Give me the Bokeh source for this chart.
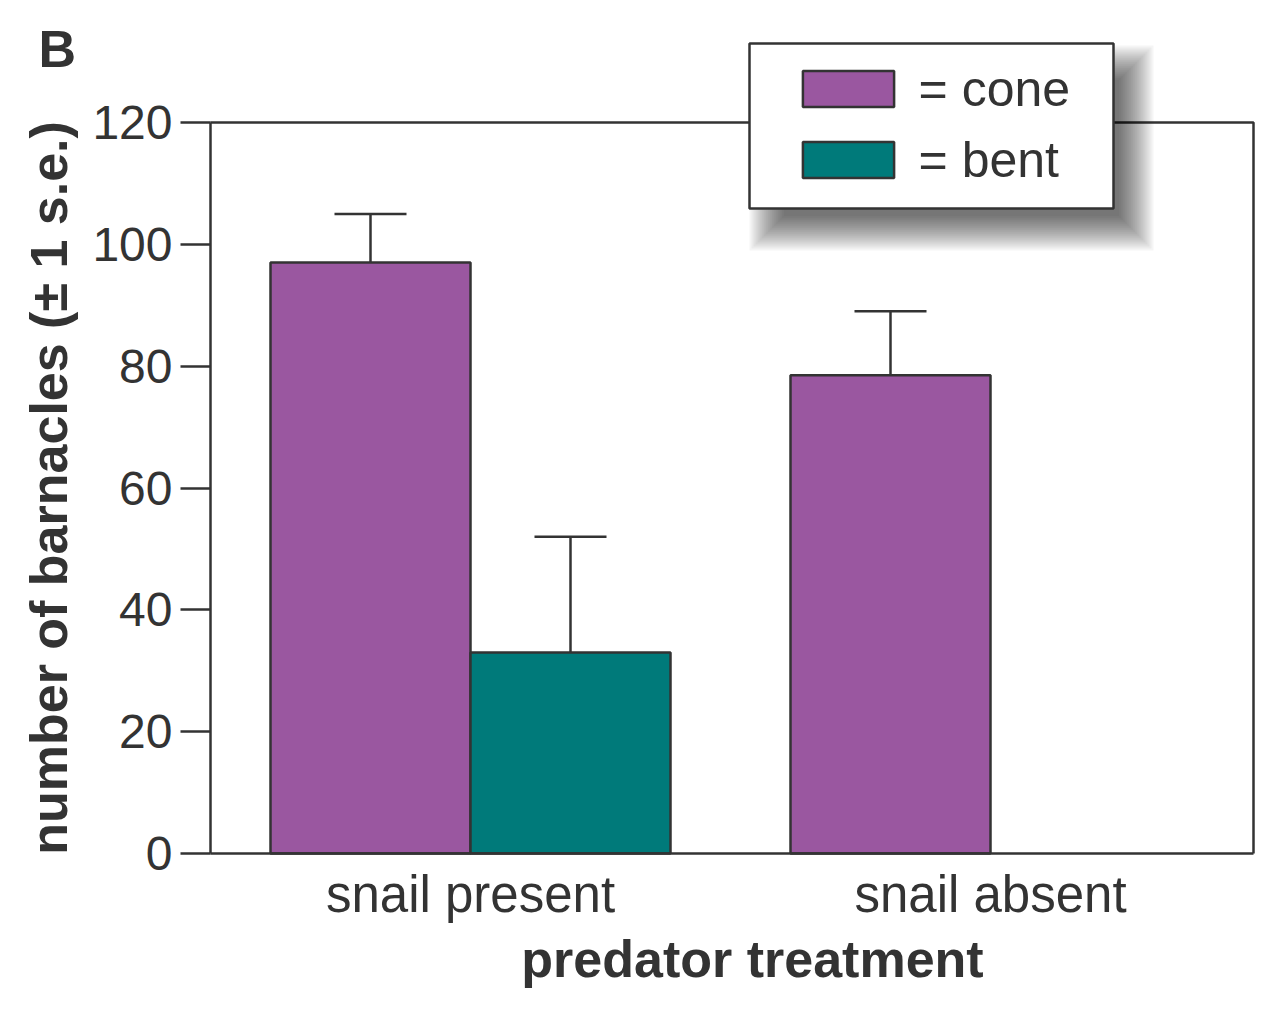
from bokeh.plotting import figure
from bokeh.models import (Range1d, FixedTicker, Legend, LegendItem, Whisker,
                          ColumnDataSource, TeeHead, Label)
from bokeh.embed import file_html
from bokeh.resources import INLINE

# ---------------- data ----------------
categories = ["snail present", "snail absent"]
series_names = ["cone", "bent"]
cone_mean = [97, 78.5]
cone_se = [8, 10.5]
bent_mean = [33, 0]
bent_se = [19, 0]
y_ticks = [0, 20, 40, 60, 80, 100, 120]
y_label = "number of barnacles (\u00b1 1 s.e.)"
x_label = "predator treatment"
panel_letter = "B"

# ---------------- layout (canvas px) ----------------
W, H = 1281, 1009
AX_L, AX_R, AX_T, AX_B = 210, 1253, 122, 853   # plotted box
FRAME_B = H                                     # frame covers whole canvas
PX_Y = (AX_B - AX_T) / 120.0
PX_X = 520.0
G0_PX = 470                                     # first group centre

def sx(px):
    return 1 + (px - G0_PX) / PX_X

def sy(py):
    return (AX_B - py) / PX_Y

BAR_W = 200 / PX_X
INK = "#333333"
PURPLE = "#9a57a0"
TEAL = "#007a7a"
FONT = "Liberation Sans"

p = figure(width=W, height=H, x_range=Range1d(sx(0), sx(W)),
           y_range=Range1d(sy(FRAME_B), sy(0)),
           min_border_left=0, min_border_right=0, min_border_top=0,
           min_border_bottom=H - FRAME_B, toolbar_location=None,
           output_backend="svg")
p.outline_line_color = None
p.grid.visible = False
p.background_fill_color = "white"
p.border_fill_color = "white"

# box top + right border
p.line(x=[sx(AX_L), sx(AX_R), sx(AX_R)], y=[120, 120, 0], line_color=INK, line_width=2.5)

# legend shadow (blurred look by layering)
bx0, bx1, by0, by1 = 749, 1113, 43, 208
dx, dy = 20, 22
for e in range(-14, 22, 2):
    p.quad(left=[sx(bx0 + dx - e)], right=[sx(bx1 + dx + e)],
           top=[sy(by0 + dy - e)], bottom=[sy(by1 + dy + e)],
           fill_color="black", fill_alpha=0.04, line_color=None)
# legend box
p.quad(left=[sx(bx0)], right=[sx(bx1)], top=[sy(by0)], bottom=[sy(by1)],
       fill_color="white", line_color=INK, line_width=2.5)

# ---------------- bars ----------------
gx = [i + 1 for i in range(len(categories))]
cone_src = ColumnDataSource(dict(
    x=[g - BAR_W / 2 for g in gx], top=cone_mean,
    lower=cone_mean, upper=[m + s for m, s in zip(cone_mean, cone_se)]))
bent_rows = [i for i, v in enumerate(bent_mean) if v > 0]
bent_src = ColumnDataSource(dict(
    x=[gx[i] + BAR_W / 2 for i in bent_rows], top=[bent_mean[i] for i in bent_rows],
    lower=[bent_mean[i] for i in bent_rows],
    upper=[bent_mean[i] + bent_se[i] for i in bent_rows]))

r_cone = p.vbar(x="x", top="top", bottom=0, width=BAR_W, source=cone_src,
                fill_color=PURPLE, line_color=INK, line_width=2.5)
r_bent = p.vbar(x="x", top="top", bottom=0, width=BAR_W, source=bent_src,
                fill_color=TEAL, line_color=INK, line_width=2.5)

for src in (cone_src, bent_src):
    w = Whisker(base="x", upper="upper", lower="lower", source=src,
                upper_head=TeeHead(size=72, line_color=INK, line_width=2.5),
                lower_head=None, line_color=INK, line_width=2.5)
    p.add_layout(w)

# ---------------- legend ----------------
legend = Legend(items=[LegendItem(label="= " + series_names[0], renderers=[r_cone]),
                       LegendItem(label="= " + series_names[1], renderers=[r_bent])],
                location=(790.6, FRAME_B - 188.5), padding=0, margin=0, spacing=13,
                glyph_width=114, glyph_height=45, label_standoff=14,
                label_text_font=FONT, label_text_font_size="50px",
                label_text_color=INK, border_line_color=None,
                background_fill_alpha=0)
p.add_layout(legend)

# ---------------- axes ----------------
ya = p.yaxis[0]
ya.fixed_location = sx(AX_L)
ya.bounds = (0, 120)
ya.ticker = FixedTicker(ticks=y_ticks)
ya.minor_tick_line_color = None
ya.major_tick_out = 30
ya.major_tick_in = 0
ya.major_tick_line_width = 2.5
ya.major_tick_line_color = INK
ya.axis_line_width = 2.5
ya.axis_line_color = INK
ya.major_label_text_font = FONT
ya.major_label_text_font_size = "48px"
ya.major_label_text_color = INK
ya.major_label_standoff = 8
ya.axis_label = y_label
ya.axis_label_text_font = FONT
ya.axis_label_text_font_size = "52px"
ya.axis_label_text_font_style = "bold"
ya.axis_label_text_color = INK
ya.axis_label_standoff = 11

xa = p.xaxis[0]
xa.fixed_location = 0
xa.bounds = (sx(AX_L), sx(AX_R))
xa.ticker = FixedTicker(ticks=gx)
xa.major_label_overrides = {g: c for g, c in zip(gx, categories)}
xa.minor_tick_line_color = None
xa.major_tick_line_color = None
xa.major_tick_out = 0
xa.major_tick_in = 0
xa.axis_line_width = 2.5
xa.axis_line_color = INK
xa.major_label_text_font = FONT
xa.major_label_text_font_size = "51px"
xa.major_label_text_color = INK
xa.major_label_standoff = 12

# x title and panel letter
p.add_layout(Label(x=sx(752), y=sy(958), text=x_label, text_font=FONT,
                   text_font_size="52px", text_font_style="bold",
                   text_color=INK, text_align="center", text_baseline="alphabetic"))
p.add_layout(Label(x=sx(38), y=sy(48), text=panel_letter, text_font=FONT,
                   text_font_size="52px", text_font_style="bold",
                   text_color=INK, text_baseline="alphabetic"))

open("out.html", "w").write(file_html(p, INLINE))
